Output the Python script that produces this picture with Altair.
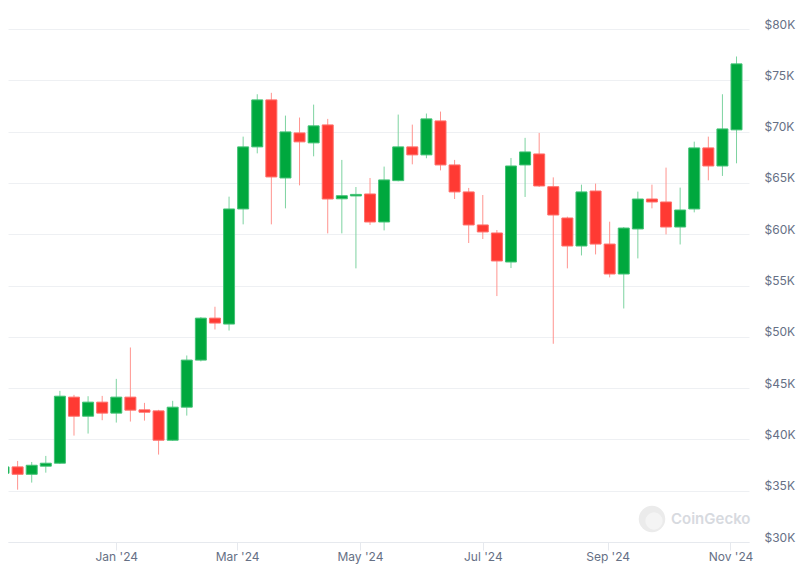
import altair as alt
import pandas as pd

# Weekly candles (values in thousands of USD)
dates = [
    "2023-11-06", "2023-11-13", "2023-11-20", "2023-11-27", "2023-12-04", "2023-12-11",
    "2023-12-18", "2023-12-25", "2024-01-01", "2024-01-08", "2024-01-15", "2024-01-22",
    "2024-01-29", "2024-02-05", "2024-02-12", "2024-02-19", "2024-02-26", "2024-03-04",
    "2024-03-11", "2024-03-18", "2024-03-25", "2024-04-01", "2024-04-08", "2024-04-15",
    "2024-04-22", "2024-04-29", "2024-05-06", "2024-05-13", "2024-05-20", "2024-05-27",
    "2024-06-03", "2024-06-10", "2024-06-17", "2024-06-24", "2024-07-01", "2024-07-08",
    "2024-07-15", "2024-07-22", "2024-07-29", "2024-08-05", "2024-08-12", "2024-08-19",
    "2024-08-26", "2024-09-02", "2024-09-09", "2024-09-16", "2024-09-23", "2024-09-30",
    "2024-10-07", "2024-10-14", "2024-10-21", "2024-10-28", "2024-11-04",
]
opens = [
    36.70, 37.32, 36.60, 37.39, 37.68, 44.12, 42.26, 43.63, 42.56, 44.12, 42.88, 42.78,
    39.92, 43.14, 47.73, 51.82, 51.24, 62.46, 68.51, 73.09, 65.48, 69.87, 68.90, 70.65,
    63.45, 63.73, 63.92, 61.19, 65.22, 68.51, 67.73, 71.04, 66.75, 64.12, 60.90, 60.12,
    57.29, 66.75, 67.82, 64.63, 61.58, 58.85, 64.21, 59.04, 56.12, 60.51, 63.43, 63.14,
    60.70, 62.46, 68.41, 66.65, 70.17,
]
highs = [
    37.60, 37.90, 37.80, 38.39, 44.73, 44.34, 44.21, 44.24, 45.90, 48.96, 43.56, 42.88,
    43.76, 48.18, 51.92, 52.93, 63.66, 69.51, 73.64, 73.78, 71.56, 71.37, 72.63, 71.24,
    67.24, 64.60, 65.48, 66.59, 71.66, 70.68, 71.76, 71.95, 67.24, 64.51, 63.82, 60.41,
    67.43, 69.39, 69.87, 65.54, 61.71, 64.83, 64.93, 61.22, 60.70, 64.15, 64.83, 66.49,
    64.54, 69.02, 69.51, 73.64, 77.32,
]
lows = [
    36.40, 35.10, 35.79, 36.76, 37.60, 40.37, 40.57, 41.87, 41.64, 41.74, 41.83, 38.52,
    39.85, 42.32, 47.60, 50.71, 50.61, 60.96, 67.88, 60.96, 62.52, 64.76, 67.59, 60.08,
    60.08, 56.67, 60.90, 60.37, 65.15, 66.81, 67.40, 66.22, 63.43, 59.14, 59.53, 53.97,
    56.70, 63.63, 64.60, 49.32, 56.67, 57.93, 58.03, 55.79, 52.76, 57.64, 62.52, 59.98,
    59.00, 62.13, 65.25, 65.68, 66.91,
]
closes = [
    37.32, 36.60, 37.48, 37.68, 44.21, 42.26, 43.63, 42.56, 44.12, 42.85, 42.65, 39.92,
    43.14, 47.73, 51.82, 51.34, 62.46, 68.51, 73.09, 65.58, 69.97, 69.00, 70.56, 63.43,
    63.75, 63.88, 61.19, 65.29, 68.51, 67.73, 71.24, 66.75, 64.12, 60.90, 60.22, 57.39,
    66.65, 68.02, 64.70, 61.87, 58.85, 64.12, 59.04, 56.12, 60.60, 63.43, 63.14, 60.70,
    62.36, 68.41, 66.65, 70.26, 76.60,
]

y_ticks = [30, 35, 40, 45, 50, 55, 60, 65, 70, 75, 80]
# Jan 1, Mar 1, May 1, Jul 1, Sep 1, Nov 1 2024 (UTC ms)
x_ticks = [1704067200000, 1709251200000, 1714521600000, 1719792000000,
           1725148800000, 1730419200000]
x_domain = [1699635744000, 1730998944000]

df = pd.DataFrame({"date": dates, "open": opens, "high": highs,
                   "low": lows, "close": closes})
df["dir"] = ["up" if c >= o else "down" for o, c in zip(opens, closes)]

label_color = "#667085"
font = "Inter"

x_enc = alt.X(
    "date:T",
    scale=alt.Scale(type="utc", domain=x_domain),
    axis=alt.Axis(
        values=x_ticks,
        labelExpr="utcFormat(datum.value, \"%b '%y\")",
        grid=False,
        domainColor="#e6e9ee",
        tickColor="#e6e9ee",
        tickSize=8,
        labelPadding=1,
        labelFontSize=12,
        labelColor=label_color,
        labelFont=font,
        title=None,
        labelFlush=False,
    ),
)
y_scale = alt.Scale(domain=[30, 80], nice=False, zero=False)
y_axis = alt.Axis(
    orient="right",
    values=y_ticks,
    labelExpr="'$' + datum.value + 'K'",
    grid=True,
    gridColor="#eef0f3",
    domain=False,
    ticks=False,
    labelAlign="left",
    labelBaseline="middle",
    labelOffset=-5,
    labelPadding=15,
    labelFontSize=12,
    labelColor=label_color,
    labelFont=font,
    title=None,
)

base = alt.Chart(df).encode(x=x_enc)

wicks = base.mark_rule(strokeWidth=1, clip=True).encode(
    y=alt.Y("low:Q", scale=y_scale, axis=y_axis),
    y2="high:Q",
    color=alt.Color("dir:N", scale=alt.Scale(domain=["up", "down"],
                                             range=["#7dd3a0", "#ff948f"]),
                    legend=None),
)

bodies = base.mark_bar(size=11, strokeWidth=1, clip=True).encode(
    y=alt.Y("open:Q", scale=y_scale),
    y2="close:Q",
    fill=alt.Fill("dir:N", scale=alt.Scale(domain=["up", "down"],
                                           range=["#00a83e", "#ff3a33"]),
                  legend=None),
    stroke=alt.Stroke("dir:N", scale=alt.Scale(domain=["up", "down"],
                                               range=["#43c276", "#ff6f6a"]),
                      legend=None),
)

wm_df = pd.DataFrame({"t": ["CoinGecko"]})
logo = alt.Chart(wm_df).mark_point(filled=True, size=700, color="#ebebeb",
                                   opacity=1).encode(
    x=alt.value(644), y=alt.value(490))
logo_inner = alt.Chart(wm_df).mark_point(filled=True, size=300, color="#f4f4f4",
                                         opacity=1).encode(
    x=alt.value(646), y=alt.value(492))
wm_text = alt.Chart(wm_df).mark_text(
    align="left", baseline="middle", fontSize=15, fontWeight=600,
    font=font, color="#d7dadf").encode(
    x=alt.value(663), y=alt.value(490), text="t:N")

chart = alt.layer(wicks, bodies, logo, logo_inner, wm_text).properties(
    width=741,
    height=513,
    autosize=alt.AutoSizeParams(type="none"),
    padding={"left": 0, "top": 21, "right": 51, "bottom": 28},
).configure_view(stroke=None).resolve_scale(color="independent")

chart.save("out.html", embed_options={"renderer": "svg", "actions": False})
